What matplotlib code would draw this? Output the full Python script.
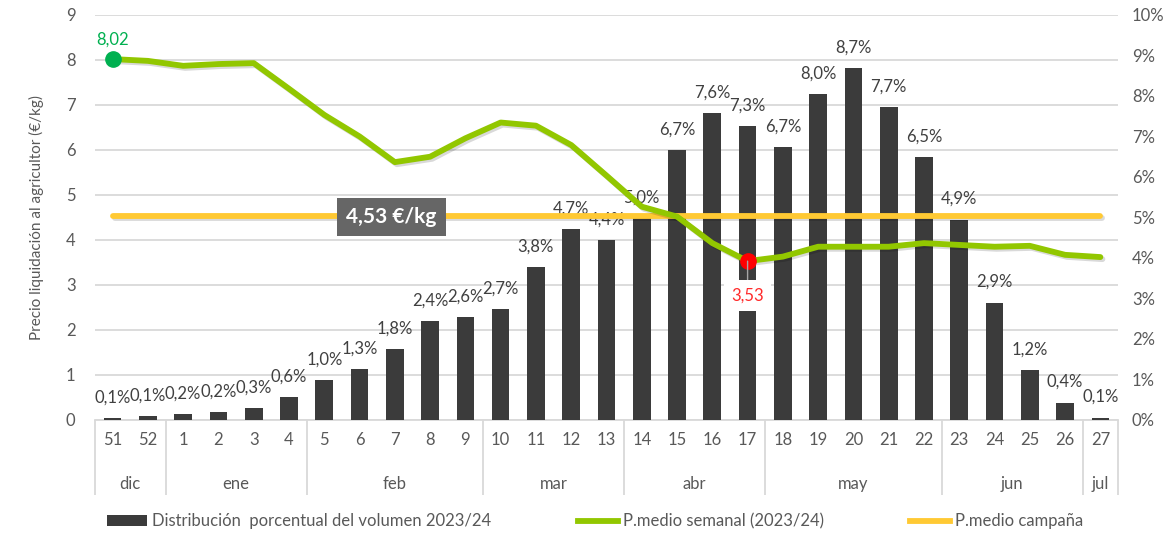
import matplotlib
matplotlib.use("Agg")
import matplotlib.pyplot as plt
import matplotlib.patheffects as pe
from matplotlib.transforms import blended_transform_factory
from matplotlib.lines import Line2D
from matplotlib.patches import Patch

plt.rcParams['font.family'] = ['Lato', 'DejaVu Sans']

weeks = ["51", "52", "1", "2", "3", "4", "5", "6", "7", "8", "9", "10", "11", "12", "13",
         "14", "15", "16", "17", "18", "19", "20", "21", "22", "23", "24", "25", "26", "27"]
months = ["dic", "ene", "feb", "mar", "abr", "may", "jun", "jul"]
month_sizes = [2, 4, 5, 4, 4, 5, 4, 1]
volume_pct = [0.1, 0.1, 0.2, 0.2, 0.3, 0.6, 1.0, 1.3, 1.8, 2.4, 2.6, 2.7, 3.8, 4.7, 4.4,
              5.0, 6.7, 7.6, 7.3, 6.7, 8.0, 8.7, 7.7, 6.5, 4.9, 2.9, 1.2, 0.4, 0.1]
bar_heights = [0.05, 0.1, 0.15, 0.2, 0.3, 0.57, 0.98, 1.25, 1.75, 2.45, 2.55, 2.73, 3.77, 4.72, 4.44,
               4.99, 6.67, 7.58, 7.26, 6.74, 8.04, 8.7, 7.72, 6.5, 4.95, 2.9, 1.24, 0.43, 0.06]
price_weekly = [8.02, 7.98, 7.87, 7.91, 7.93, 7.36, 6.78, 6.30, 5.73, 5.85, 6.26, 6.61, 6.54, 6.11, 5.43,
                4.74, 4.52, 3.93, 3.53, 3.63, 3.85, 3.85, 3.85, 3.93, 3.89, 3.85, 3.87, 3.67, 3.62]
price_campaign = 4.53

GRAY_TXT = "#595959"
x = list(range(len(weeks)))

fig = plt.figure(figsize=(11.67, 5.35), dpi=100)
ax = fig.add_axes([0.0814, 0.215, 0.8766, 0.757])
ax_bar = ax.twinx()
ax_line = ax.twinx()
ax.set_zorder(1)
ax_bar.set_zorder(2)
ax_line.set_zorder(3)
for a in (ax_bar, ax_line):
    a.patch.set_visible(False)

# Base axis: price scale, gridlines, left ticks
ax.set_xlim(-0.5, len(weeks) - 0.5)
ax.set_ylim(0, 9)
ax.set_yticks(range(0, 10))
ax.grid(axis='y', color='#d9d9d9', linewidth=1.3)
ax.set_axisbelow(True)
for s in ax.spines.values():
    s.set_visible(False)
ax.spines['bottom'].set_visible(True)
ax.spines['bottom'].set_color('#d9d9d9')
ax.spines['bottom'].set_linewidth(1.3)
ax.tick_params(axis='y', length=0, labelsize=12, labelcolor=GRAY_TXT, pad=14)
ax.set_xticks(x)
ax.set_xticklabels(weeks)
ax.tick_params(axis='x', which='major', length=0, labelsize=12, labelcolor=GRAY_TXT, pad=9)
bounds = [-0.5]
acc = -0.5
for n in month_sizes:
    acc += n
    bounds.append(acc)
ax.set_xticks(bounds, minor=True)
ax.tick_params(axis='x', which='minor', length=54, color='#d9d9d9', width=1.3)
ax.set_ylabel("Precio liquidación al agricultor (€/kg)", fontsize=11, color=GRAY_TXT, labelpad=16)

tr = blended_transform_factory(ax.transData, ax.transAxes)
start = -0.5
for m, n in zip(months, month_sizes):
    ax.text(start + n / 2, -0.158, m, transform=tr, ha='center', va='center',
            fontsize=12, color=GRAY_TXT)
    start += n

# Bars: percent scale (right)
ax_bar.set_ylim(0, 10)
ax_bar.set_yticks(range(0, 11))
ax_bar.set_yticklabels([f"{v}%" for v in range(0, 11)])
ax_bar.tick_params(axis='y', length=0, labelsize=12, labelcolor=GRAY_TXT, pad=10)
for s in ax_bar.spines.values():
    s.set_visible(False)
ax_bar.bar(x, bar_heights, width=0.5, color='#3b3b3b')
for xi, h, v in zip(x, bar_heights, volume_pct):
    ax_bar.annotate(f"{v:.1f}%".replace('.', ','), (xi, h), xytext=(0, 9),
                    textcoords='offset points', ha='center', va='bottom',
                    fontsize=12, color='#404040')

# Lines: price scale
ax_line.set_ylim(0, 9)
ax_line.set_yticks([])
for s in ax_line.spines.values():
    s.set_visible(False)
shadow = [pe.SimpleLineShadow(offset=(1.5, -1.5), shadow_color='#000000', alpha=0.15), pe.Normal()]
ax_line.plot([x[0], x[-1]], [price_campaign, price_campaign], color='#ffc933', linewidth=4.2,
             solid_capstyle='round', path_effects=shadow)
ax_line.plot(x, price_weekly, color='#92c700', linewidth=4.2, solid_joinstyle='round',
             solid_capstyle='round', path_effects=shadow)
ax_line.plot([x[0]], [price_weekly[0]], 'o', color='#00b050', markersize=11, zorder=5)
imin = price_weekly.index(min(price_weekly))
ax_line.plot([x[imin]], [price_weekly[imin]], 'o', color='#ff0000', markersize=11, zorder=5)
ax_line.annotate(f"{price_weekly[0]:.2f}".replace('.', ','), (x[0], price_weekly[0]),
                 xytext=(0, 8), textcoords='offset points', ha='center', va='bottom',
                 fontsize=12, color='#00b050')
ax_line.annotate(f"{price_weekly[imin]:.2f}".replace('.', ','), (x[imin], price_weekly[imin]),
                 xytext=(0, -25), textcoords='offset points', ha='center', va='center',
                 fontsize=12, color='#ff2a2a',
                 bbox=dict(boxstyle='square,pad=0.45', fc='white', ec='none'),
                 arrowprops=dict(arrowstyle='-', color='#a6a6a6', lw=1, shrinkA=0, shrinkB=0),
                 zorder=6)
ax_line.text(7.9, price_campaign - 0.02, f"{price_campaign:.2f} €/kg".replace('.', ','),
             ha='center', va='center', fontsize=15, fontweight='bold', color='white',
             bbox=dict(boxstyle='square,pad=0.45', fc='#666666', ec='none'), zorder=6)

# Legend
handles = [Patch(facecolor='#3b3b3b', edgecolor='none'),
           Line2D([0], [0], color='#92c700', linewidth=4.2),
           Line2D([0], [0], color='#ffc933', linewidth=4.2)]
labels = ["Distribución  porcentual del volumen 2023/24", "P.medio semanal (2023/24)", "P.medio campaña"]
fig.legend(handles, labels, loc='center', bbox_to_anchor=(0.51, 0.026), ncol=3, frameon=False,
           fontsize=12, labelcolor=GRAY_TXT, columnspacing=5.2, handlelength=2.4, handletextpad=0.3,
           handleheight=0.6)

fig.savefig("out.png", dpi=100)
